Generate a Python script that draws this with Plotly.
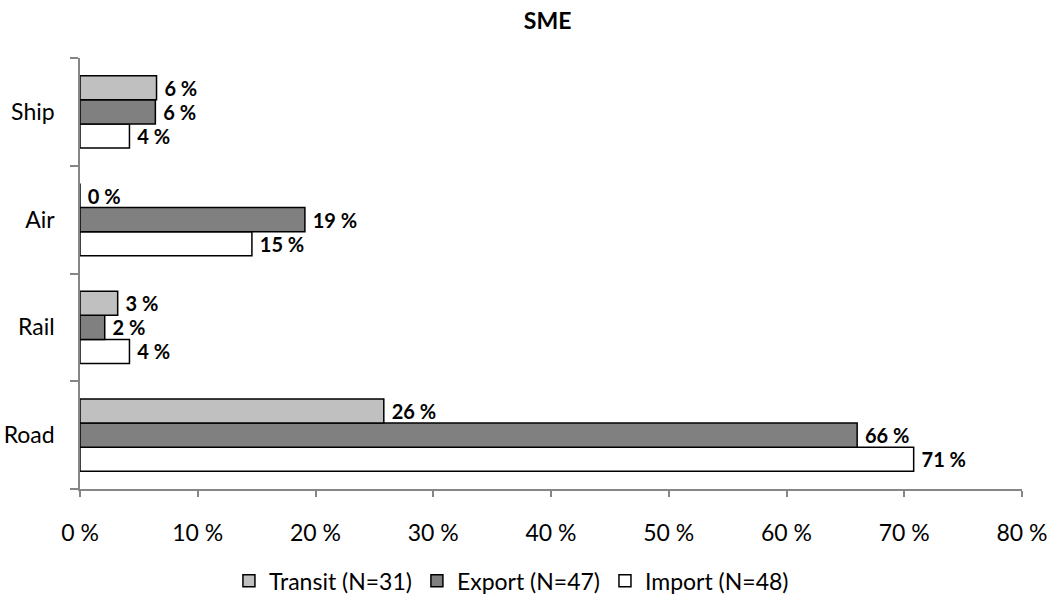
import plotly.graph_objects as go

# Share of SME respondents using each transport mode, by flow direction (%)
modes = ["Road", "Rail", "Air", "Ship"]
transit = [25.8, 3.2, 0.0, 6.5]    # N=31
export = [66.0, 2.1, 19.1, 6.4]    # N=47
imports = [70.8, 4.2, 14.6, 4.2]   # N=48
x_ticks = [0, 10, 20, 30, 40, 50, 60, 70, 80]

FONT = "Lato"
SIZE = 23
LABEL_SIZE = 20
AXIS_GREY = "#868686"


def labels(vals):
    # leading no-break space keeps the value clear of the bar end
    return [f"\u00a0{v:.0f} %" for v in vals]


fig = go.Figure()
# Traces are stacked bottom-to-top inside each group: Import, Export, Transit
for name, vals, color in [
    ("Import (N=48)", imports, "#FFFFFF"),
    ("Export (N=47)", export, "#808080"),
    ("Transit (N=31)", transit, "#C0C0C0"),
]:
    fig.add_trace(go.Bar(
        y=modes, x=vals, name=name, orientation="h",
        marker=dict(color=color, line=dict(color="#000000", width=1.5)),
        text=labels(vals), textposition="outside",
        textfont=dict(family=FONT, size=LABEL_SIZE, color="#000000",
                      weight="bold"),
        constraintext="none", cliponaxis=False,
    ))

fig.update_layout(
    width=1049, height=595,
    margin=dict(l=80, r=27, t=58, b=106, autoexpand=False),
    paper_bgcolor="white", plot_bgcolor="white",
    barmode="group", bargap=0.33, bargroupgap=0,
    font=dict(family=FONT, size=SIZE, color="#000000"),
    title=dict(text="<b>SME</b>", x=0.522, xanchor="center", y=0.965,
               yanchor="middle", font=dict(family=FONT, size=SIZE)),
    showlegend=True,
    legend=dict(orientation="h", traceorder="reversed", x=0.458,
                xanchor="center", y=-0.213, yanchor="middle",
                font=dict(family=FONT, size=SIZE), itemwidth=30,
                tracegroupgap=0),
)
fig.update_xaxes(
    range=[0, 80], tickvals=x_ticks, ticktext=[f"{t} %" for t in x_ticks],
    showgrid=False, zeroline=False, showline=True, linecolor=AXIS_GREY,
    linewidth=1.5, ticks="outside", ticklen=6, tickcolor=AXIS_GREY,
    tickwidth=1.5, ticklabelstandoff=17, fixedrange=True,
)
fig.update_yaxes(
    showgrid=False, zeroline=False, showline=True, linecolor=AXIS_GREY,
    linewidth=1.5, ticks="outside", ticklen=8, tickcolor=AXIS_GREY,
    tickwidth=1.5, tickson="boundaries", ticklabelstandoff=19,
)

fig.write_html("out.html")
